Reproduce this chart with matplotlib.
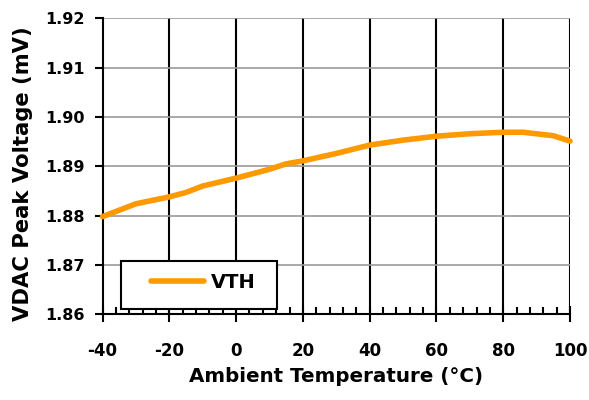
import matplotlib.pyplot as plt
from matplotlib.ticker import MultipleLocator
from matplotlib.patches import Rectangle

# values
temp_c = [-40, -30, -20, -15, -10, 0, 10, 15, 20, 30, 40, 50, 60, 70, 80, 86, 95, 100]
vth_mv = [1.8798, 1.8824, 1.8838, 1.8847, 1.8860, 1.8876, 1.8894, 1.8905, 1.8911,
          1.8926, 1.8943, 1.8953, 1.8961, 1.8966, 1.8969, 1.8969, 1.8962, 1.8951]

x_ticks = [-40, -20, 0, 20, 40, 60, 80, 100]
y_ticks = [1.86, 1.87, 1.88, 1.89, 1.90, 1.91, 1.92]

plt.rcParams['font.family'] = ['DejaVu Sans']
plt.rcParams['font.weight'] = 'bold'

W, H = 589, 400
fig = plt.figure(figsize=(W / 100, H / 100), dpi=100)
ax = fig.add_axes([102.5 / W, 1 - 314.3 / H, (570 - 102.5) / W, (314.3 - 18.3) / H])

ax.plot(temp_c, vth_mv, color='#FF9900', linewidth=4, label='VTH',
        solid_capstyle='round', zorder=3, clip_on=False)

ax.set_xlim(-40, 100)
ax.set_ylim(1.86, 1.92)
ax.set_xticks(x_ticks)
ax.set_yticks(y_ticks)
ax.set_xticklabels([str(t) for t in x_ticks])
ax.set_yticklabels(['%.2f' % t for t in y_ticks])
ax.xaxis.set_minor_locator(MultipleLocator(4))

# black vertical grid, grey horizontal grid
for t in x_ticks[1:]:
    ax.axvline(t, color='black', linewidth=1.5, zorder=1)
for t in y_ticks[1:]:
    ax.axhline(t, color='#9a9a9a', linewidth=1.2, zorder=1)

for s in ['top', 'right']:
    ax.spines[s].set_visible(False)
ax.spines['left'].set_linewidth(1.5)
ax.spines['bottom'].set_linewidth(1.5)

ax.tick_params(axis='x', which='major', direction='inout', length=12, width=1.5,
               labelsize=12, pad=14)
ax.tick_params(axis='x', which='minor', direction='in', length=5, width=1.5)
ax.tick_params(axis='y', which='major', direction='out', length=6, width=1.5,
               labelsize=11.5, pad=7)

ax.set_xlabel('Ambient Temperature (°C)', fontsize=14.3, fontweight='bold', va='top')
ax.xaxis.set_label_coords(0.5005, -0.178)
ax.set_ylabel('VDAC Peak Voltage (mV)', fontsize=15.2, fontweight='bold')
ax.yaxis.set_label_coords(-0.148, 0.474)

# legend box and entry
box = Rectangle((120.7 / W, 1 - 309.3 / H), 156.6 / W, 48.3 / H,
                transform=fig.transFigure, facecolor='white', edgecolor='black',
                linewidth=1.5, zorder=4, clip_on=False)
ax.add_patch(box)
leg = ax.legend(loc='center left', bbox_to_anchor=(150.6 / W, 1 - 282 / H),
                bbox_transform=fig.transFigure, frameon=False, borderpad=0,
                borderaxespad=0, handlelength=2.77, handletextpad=0.33,
                prop={'weight': 'bold', 'size': 14})
leg.set_zorder(5)

plt.savefig('out.png', dpi=100)
